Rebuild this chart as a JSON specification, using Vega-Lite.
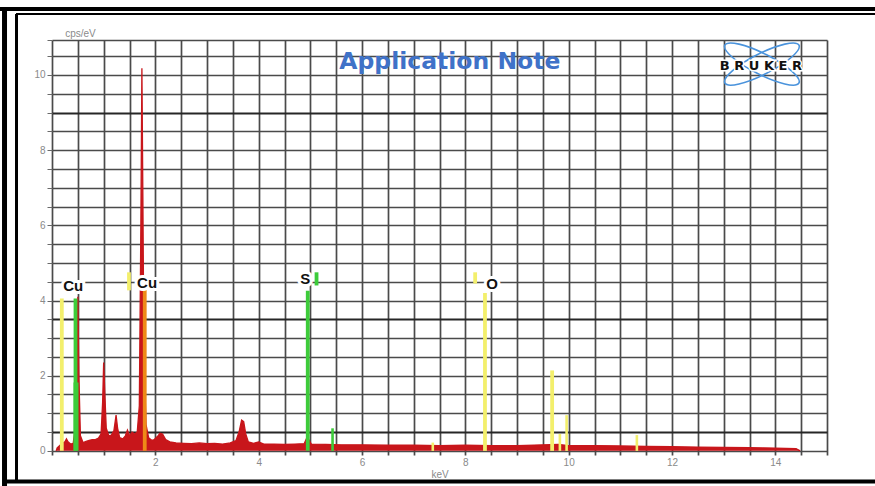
{
  "$schema": "https://vega.github.io/schema/vega-lite/v6.json",
  "width": 775,
  "height": 415,
  "autosize": {"type": "none"},
  "padding": {"left": 52, "top": 40, "right": 48, "bottom": 31},
  "background": "white",
  "config": {"view": {"stroke": null}, "font": "Liberation Sans"},
  "datasets": {
    "spectrum": [
      {"keV": 0.08, "cps": 0}, {"keV": 0.1, "cps": 0.08}, {"keV": 0.15, "cps": 0.14}, {"keV": 0.2, "cps": 0.2},
      {"keV": 0.25, "cps": 0.24}, {"keV": 0.28, "cps": 0.32}, {"keV": 0.31, "cps": 0.24}, {"keV": 0.36, "cps": 0.18},
      {"keV": 0.41, "cps": 0.2}, {"keV": 0.45, "cps": 0.6}, {"keV": 0.48, "cps": 2.5}, {"keV": 0.5, "cps": 4.1},
      {"keV": 0.52, "cps": 2.0}, {"keV": 0.55, "cps": 0.4}, {"keV": 0.6, "cps": 0.22}, {"keV": 0.66, "cps": 0.25},
      {"keV": 0.72, "cps": 0.28}, {"keV": 0.78, "cps": 0.3}, {"keV": 0.84, "cps": 0.3}, {"keV": 0.9, "cps": 0.34},
      {"keV": 0.95, "cps": 0.45}, {"keV": 0.98, "cps": 1.3}, {"keV": 1.0, "cps": 2.35}, {"keV": 1.02, "cps": 1.6},
      {"keV": 1.05, "cps": 0.6}, {"keV": 1.1, "cps": 0.4}, {"keV": 1.15, "cps": 0.42}, {"keV": 1.2, "cps": 0.55},
      {"keV": 1.24, "cps": 0.95}, {"keV": 1.27, "cps": 0.6}, {"keV": 1.31, "cps": 0.35}, {"keV": 1.37, "cps": 0.32},
      {"keV": 1.42, "cps": 0.4}, {"keV": 1.46, "cps": 0.55}, {"keV": 1.5, "cps": 0.4}, {"keV": 1.55, "cps": 0.5},
      {"keV": 1.6, "cps": 0.45}, {"keV": 1.65, "cps": 0.5}, {"keV": 1.69, "cps": 1.2}, {"keV": 1.72, "cps": 6.0},
      {"keV": 1.74, "cps": 10.18}, {"keV": 1.76, "cps": 6.5}, {"keV": 1.78, "cps": 2.5}, {"keV": 1.82, "cps": 0.7},
      {"keV": 1.87, "cps": 0.35}, {"keV": 1.93, "cps": 0.28}, {"keV": 1.98, "cps": 0.3}, {"keV": 2.04, "cps": 0.38},
      {"keV": 2.09, "cps": 0.47}, {"keV": 2.14, "cps": 0.45}, {"keV": 2.2, "cps": 0.3}, {"keV": 2.28, "cps": 0.24},
      {"keV": 2.4, "cps": 0.21}, {"keV": 2.55, "cps": 0.2}, {"keV": 2.7, "cps": 0.19}, {"keV": 2.85, "cps": 0.21},
      {"keV": 3.0, "cps": 0.19}, {"keV": 3.15, "cps": 0.2}, {"keV": 3.3, "cps": 0.18}, {"keV": 3.45, "cps": 0.21},
      {"keV": 3.56, "cps": 0.27}, {"keV": 3.62, "cps": 0.5}, {"keV": 3.67, "cps": 0.82}, {"keV": 3.71, "cps": 0.78},
      {"keV": 3.75, "cps": 0.45}, {"keV": 3.8, "cps": 0.24}, {"keV": 3.9, "cps": 0.2}, {"keV": 4.0, "cps": 0.24},
      {"keV": 4.1, "cps": 0.18}, {"keV": 4.3, "cps": 0.18}, {"keV": 4.5, "cps": 0.17}, {"keV": 4.7, "cps": 0.18},
      {"keV": 4.88, "cps": 0.19}, {"keV": 4.93, "cps": 0.34}, {"keV": 4.97, "cps": 0.3}, {"keV": 5.02, "cps": 0.18},
      {"keV": 5.3, "cps": 0.17}, {"keV": 5.6, "cps": 0.16}, {"keV": 6.0, "cps": 0.16}, {"keV": 6.5, "cps": 0.15},
      {"keV": 7.0, "cps": 0.15}, {"keV": 7.5, "cps": 0.14}, {"keV": 8.0, "cps": 0.15}, {"keV": 8.5, "cps": 0.14},
      {"keV": 9.0, "cps": 0.14}, {"keV": 9.5, "cps": 0.16}, {"keV": 9.8, "cps": 0.17}, {"keV": 10.0, "cps": 0.14},
      {"keV": 10.5, "cps": 0.14}, {"keV": 11.0, "cps": 0.13}, {"keV": 11.5, "cps": 0.12}, {"keV": 12.0, "cps": 0.11},
      {"keV": 12.5, "cps": 0.1}, {"keV": 13.0, "cps": 0.095}, {"keV": 13.5, "cps": 0.085}, {"keV": 14.0, "cps": 0.075},
      {"keV": 14.4, "cps": 0.06}, {"keV": 14.48, "cps": 0}
    ],
    "markers": [
      {"keV": 0.19, "lo": 0, "hi": 4.05, "group": "Y", "weight": "m"},
      {"keV": 0.455, "lo": 0, "hi": 4.05, "group": "G", "weight": "m"},
      {"keV": 0.465, "lo": 0, "hi": 1.82, "group": "G", "weight": "M"},
      {"keV": 1.49, "lo": 4.27, "hi": 4.75, "group": "Y", "weight": "m"},
      {"keV": 1.795, "lo": 0, "hi": 4.4, "group": "O", "weight": "m"},
      {"keV": 4.95, "lo": 0, "hi": 4.26, "group": "G", "weight": "m"},
      {"keV": 5.12, "lo": 4.4, "hi": 4.75, "group": "G", "weight": "m"},
      {"keV": 5.43, "lo": 0, "hi": 0.6, "group": "G", "weight": "s"},
      {"keV": 7.37, "lo": 0, "hi": 0.22, "group": "Y", "weight": "s"},
      {"keV": 8.19, "lo": 4.45, "hi": 4.75, "group": "Y", "weight": "m"},
      {"keV": 8.38, "lo": 0, "hi": 4.2, "group": "Y", "weight": "m"},
      {"keV": 9.68, "lo": 0, "hi": 2.14, "group": "Y", "weight": "m"},
      {"keV": 9.83, "lo": 0, "hi": 0.45, "group": "Y", "weight": "s"},
      {"keV": 9.96, "lo": 0, "hi": 0.95, "group": "Y", "weight": "s"},
      {"keV": 11.32, "lo": 0, "hi": 0.42, "group": "Y", "weight": "s"}
    ],
    "labels": [
      {"keV": 0.41, "cps": 4.39, "label": "Cu"},
      {"keV": 1.84, "cps": 4.46, "label": "Cu"},
      {"keV": 4.9, "cps": 4.57, "label": "S"},
      {"keV": 8.52, "cps": 4.44, "label": "O"}
    ],
    "one": [{}]
  },
  "layer": [
    {
      "data": {"name": "spectrum"},
      "mark": {"type": "area", "color": "#c8161b", "interpolate": "linear"},
      "encoding": {
        "x": {
          "field": "keV", "type": "quantitative",
          "scale": {"domain": [0, 15], "nice": false, "zero": false},
          "axis": {
            "values": [0,0.5,1,1.5,2,2.5,3,3.5,4,4.5,5,5.5,6,6.5,7,7.5,8,8.5,9,9.5,10,10.5,11,11.5,12,12.5,13,13.5,14,14.5,15],
            "tickCount": 200, "format": "~g",
            "labelExpr": "datum.value > 0 && datum.value % 2 == 0 ? datum.label : ''",
            "labelOverlap": false, "labelBound": false, "labelFlush": false,
            "grid": true, "gridColor": "#4a4a4a", "gridWidth": 1.7,
            "domain": false, "ticks": false,
            "labelColor": "#8a8a8a", "labelFontSize": 10, "labelPadding": 2,
            "title": "keV", "titleColor": "#8a8a8a", "titleFontSize": 10, "titleFontWeight": "normal", "titlePadding": 2
          }
        },
        "y": {
          "field": "cps", "type": "quantitative",
          "scale": {"domain": [-0.11, 10.93], "nice": false, "zero": false},
          "axis": {
            "values": [0,0.5,1,1.5,2,2.5,3,3.5,4,4.5,5,5.5,6,6.5,7,7.5,8,8.5,9,9.5,10,10.5,10.93],
            "tickCount": 200, "format": "~g",
            "labelExpr": "datum.value % 2 == 0 ? datum.label : ''",
            "labelOverlap": false, "labelBound": false, "labelFlush": false,
            "grid": true,
            "gridColor": {"condition": {"test": "datum.value == 0.5 || datum.value == 3.5 || datum.value == 9", "value": "#262626"}, "value": "#4a4a4a"},
            "gridWidth": {"condition": {"test": "datum.value == 0.5 || datum.value == 3.5 || datum.value == 9", "value": 2.2}, "value": 1.7},
            "domain": false, "tickSize": 5, "tickColor": "#6a6a6a",
            "labelColor": "#8a8a8a", "labelFontSize": 10, "labelPadding": 2,
            "title": null
          }
        }
      }
    },
    {
      "data": {"name": "spectrum"},
      "mark": {"type": "line", "color": "#c8161b", "strokeWidth": 1.3, "interpolate": "linear"},
      "encoding": {
        "x": {"field": "keV", "type": "quantitative"},
        "y": {"field": "cps", "type": "quantitative"}
      }
    },
    {
      "data": {"name": "markers"},
      "mark": {"type": "rule"},
      "encoding": {
        "x": {"field": "keV", "type": "quantitative"},
        "y": {"field": "lo", "type": "quantitative"},
        "y2": {"field": "hi"},
        "color": {"field": "group", "type": "nominal", "scale": {"domain": ["Y", "G", "O"], "range": ["#f3ef6c", "#3dcc3a", "#ee8a18"]}, "legend": null},
        "strokeWidth": {"field": "weight", "type": "nominal", "scale": {"domain": ["M", "m", "s"], "range": [5, 2.6, 1.6]}, "legend": null}
      }
    },
    {
      "data": {"name": "labels"},
      "mark": {"type": "text", "font": "Liberation Sans", "fontWeight": "bold", "fontSize": 15, "fill": "white", "stroke": "white", "strokeWidth": 6, "baseline": "middle", "align": "center"},
      "encoding": {
        "x": {"field": "keV", "type": "quantitative"},
        "y": {"field": "cps", "type": "quantitative"},
        "text": {"field": "label"}
      }
    },
    {
      "data": {"name": "labels"},
      "mark": {"type": "text", "font": "Liberation Sans", "fontWeight": "bold", "fontSize": 15, "color": "#111111", "baseline": "middle", "align": "center"},
      "encoding": {
        "x": {"field": "keV", "type": "quantitative"},
        "y": {"field": "cps", "type": "quantitative"},
        "text": {"field": "label"}
      }
    },
    {
      "data": {"name": "one"},
      "mark": {"type": "text", "font": "DejaVu Sans", "fontWeight": "bold", "fontSize": 23.5, "color": "#3f72c8", "baseline": "middle", "align": "center"},
      "encoding": {"x": {"datum": 7.7}, "y": {"datum": 10.35}, "text": {"value": "Application Note"}}
    },
    {
      "data": {"name": "one"},
      "mark": {"type": "point", "shape": "M 0.713 0.363 C 0.663 0.462 0.303 0.379 -0.091 0.178 C -0.485 -0.022 -0.763 -0.265 -0.713 -0.363 C -0.663 -0.462 -0.303 -0.379 0.091 -0.178 C 0.485 0.022 0.763 0.265 0.713 0.363 Z M 0.713 -0.363 C 0.663 -0.462 0.303 -0.379 -0.091 -0.178 C -0.485 0.022 -0.763 0.265 -0.713 0.363 C -0.663 0.462 -0.303 0.379 0.091 0.178 C 0.485 -0.022 0.763 -0.265 0.713 -0.363 Z", "filled": false, "stroke": "#4a93dc", "strokeWidth": 1.6, "size": 10816, "opacity": 1},
      "encoding": {"x": {"datum": 13.74}, "y": {"datum": 10.29}}
    },
    {
      "data": {"name": "one"},
      "mark": {"type": "text", "font": "DejaVu Sans", "fontWeight": "bold", "fontSize": 13, "fill": "white", "stroke": "white", "strokeWidth": 3, "baseline": "middle", "align": "center"},
      "encoding": {"x": {"datum": 13.72}, "y": {"datum": 10.24}, "text": {"value": "B R U K E R"}}
    },
    {
      "data": {"name": "one"},
      "mark": {"type": "text", "font": "DejaVu Sans", "fontWeight": "bold", "fontSize": 13, "color": "#111111", "baseline": "middle", "align": "center"},
      "encoding": {"x": {"datum": 13.72}, "y": {"datum": 10.24}, "text": {"value": "B R U K E R"}}
    },
    {
      "data": {"name": "one"},
      "mark": {"type": "text", "fontSize": 10, "color": "#8a8a8a", "baseline": "middle", "align": "center"},
      "encoding": {"x": {"datum": 0.55}, "y": {"datum": 11.09}, "text": {"value": "cps/eV"}}
    },
    {
      "data": {"name": "one"},
      "mark": {"type": "rule", "color": "black", "strokeWidth": 4},
      "encoding": {"x": {"datum": -1.01}, "x2": {"datum": 15.93}, "y": {"datum": 11.755}}
    },
    {
      "data": {"name": "one"},
      "mark": {"type": "rule", "color": "black", "strokeWidth": 5},
      "encoding": {"x": {"datum": -0.919}, "y": {"datum": 11.81}, "y2": {"datum": -0.94}}
    },
    {
      "data": {"name": "one"},
      "mark": {"type": "rule", "color": "black", "strokeWidth": 2},
      "encoding": {"x": {"datum": -0.697}, "x2": {"datum": 15.93}, "y": {"datum": 11.622}}
    },
    {
      "data": {"name": "one"},
      "mark": {"type": "rule", "color": "black", "strokeWidth": 3},
      "encoding": {"x": {"datum": -0.687}, "y": {"datum": 11.622}, "y2": {"datum": -0.81}}
    },
    {
      "data": {"name": "one"},
      "mark": {"type": "rule", "color": "black", "strokeWidth": 4},
      "encoding": {"x": {"datum": -0.93}, "x2": {"datum": 15.93}, "y": {"datum": -0.815}}
    }
  ]
}
